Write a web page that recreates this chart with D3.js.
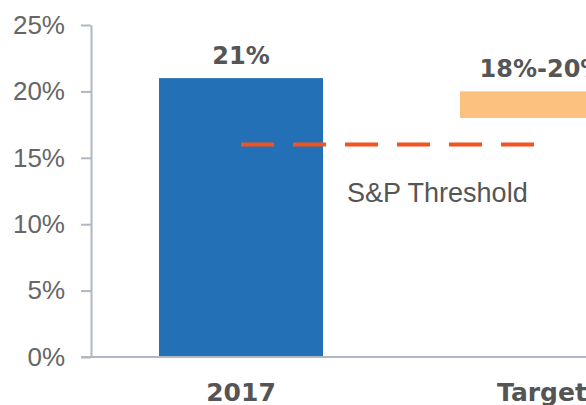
<!DOCTYPE html>
<html>
<head>
<meta charset="utf-8">
<script src="https://cdn.jsdelivr.net/npm/d3@7"></script>
<style>
  html, body { margin: 0; padding: 0; background: #fff; overflow: hidden; }
  svg { display: block; }
</style>
</head>
<body>
<svg id="chart" width="586" height="405"></svg>
<script>
const categories = ["2017", "Target"];
const barLow = [0, 0.18];
const barHigh = [0.21, 0.20];
const valueLabels = ["21%", "18%-20%"];
const threshold = 0.16;
const thresholdLabel = "S&P Threshold";
const yTicks = [0, 0.05, 0.10, 0.15, 0.20, 0.25];

const svg = d3.select("#chart");
const y = d3.scaleLinear().domain([0, 0.25]).range([357, 25]);
const x = d3.scaleBand().domain(categories).range([91, 692])
  .paddingInner(0.455).paddingOuter(0.226);

const colors = ["#2470B6", "#FCC07F"];

// bars
svg.selectAll("rect.bar").data(categories).join("rect")
  .attr("class", "bar")
  .attr("x", d => x(d))
  .attr("width", x.bandwidth())
  .attr("y", (d, i) => y(barHigh[i]))
  .attr("height", (d, i) => y(barLow[i]) - y(barHigh[i]))
  .attr("fill", (d, i) => colors[i]);

// y axis
const yAxis = d3.axisLeft(y).tickValues(yTicks).tickFormat(d3.format(".0%"))
  .tickSize(10).tickSizeOuter(0).tickPadding(16);
const gy = svg.append("g").attr("transform", "translate(91,0)").call(yAxis);
gy.select(".domain").attr("stroke", "#AEB8C2").attr("stroke-width", 2);
gy.selectAll(".tick line").attr("stroke", "#AEB8C2").attr("stroke-width", 2);
gy.selectAll(".tick text").attr("fill", "#666").attr("font-size", 26)
  .attr("font-family", "Liberation Sans, Arial, sans-serif");

// x baseline
svg.append("line").attr("x1", 81).attr("x2", 586)
  .attr("y1", y(0)).attr("y2", y(0))
  .attr("stroke", "#AEB8C2").attr("stroke-width", 2);

// category labels
svg.selectAll("text.cat").data(categories).join("text")
  .attr("class", "cat")
  .attr("x", d => x(d) + x.bandwidth() / 2)
  .attr("y", y(0) + 44)
  .attr("text-anchor", "middle")
  .attr("font-family", "DejaVu Sans, sans-serif")
  .attr("font-weight", "bold")
  .attr("font-size", 25)
  .attr("fill", "#555")
  .text(d => d);

// value labels
svg.selectAll("text.val").data(categories).join("text")
  .attr("class", "val")
  .attr("x", d => x(d) + x.bandwidth() / 2)
  .attr("y", (d, i) => y(barHigh[i]) - 14)
  .attr("text-anchor", "middle")
  .attr("font-family", "DejaVu Sans, sans-serif")
  .attr("font-weight", "bold")
  .attr("font-size", 24)
  .attr("fill", "#555")
  .text((d, i) => valueLabels[i]);

// threshold line
svg.append("line")
  .attr("x1", x("2017") + x.bandwidth() / 2)
  .attr("x2", x("Target") + x.bandwidth() / 2)
  .attr("y1", y(threshold)).attr("y2", y(threshold))
  .attr("stroke", "#F2531F").attr("stroke-width", 4)
  .attr("stroke-dasharray", "33,19");

svg.append("text")
  .attr("x", x("2017") + x.bandwidth() + 24)
  .attr("y", y(threshold) + 57)
  .attr("font-family", "Liberation Sans, Arial, sans-serif")
  .attr("font-size", 27)
  .attr("fill", "#555")
  .text(thresholdLabel);
</script>
</body>
</html>
